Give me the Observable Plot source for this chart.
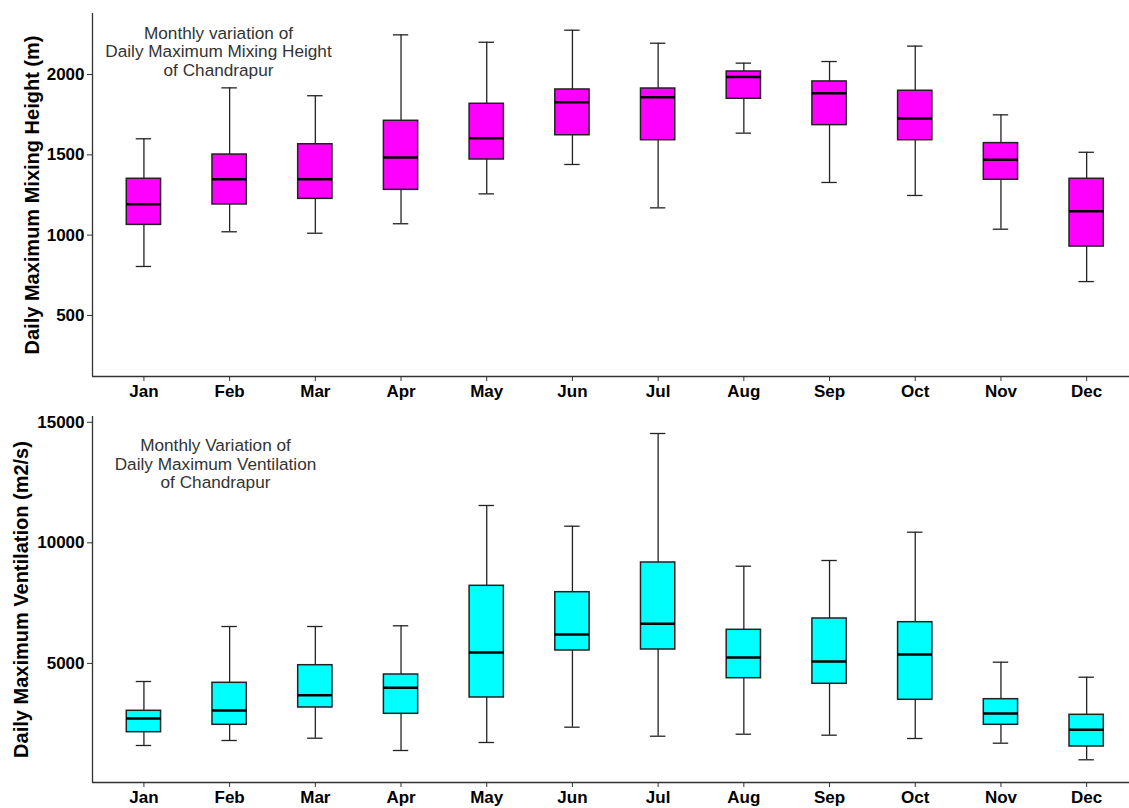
<!DOCTYPE html>
<html><head><meta charset="utf-8">
<script src="https://cdn.jsdelivr.net/npm/d3@7"></script>
<script src="https://cdn.jsdelivr.net/npm/@observablehq/plot@0.6"></script>
<style>
html,body{margin:0;padding:0;background:#fff;overflow:hidden;}
#chart svg{display:block;}
</style></head><body><div id="chart"></div>
<script>
const months = ["Jan","Feb","Mar","Apr","May","Jun","Jul","Aug","Sep","Oct","Nov","Dec"];

// Daily Maximum Mixing Height (m): whisker low, Q1, median, Q3, whisker high
const mixLow  = [805, 1021, 1012, 1071, 1257, 1440, 1170, 1635, 1328, 1247, 1037, 711];
const mixQ1   = [1064, 1191, 1226, 1282, 1471, 1622, 1591, 1849, 1685, 1591, 1345, 929];
const mixMed  = [1193, 1348, 1348, 1483, 1604, 1828, 1859, 1984, 1884, 1726, 1469, 1149];
const mixQ3   = [1351, 1502, 1566, 1712, 1818, 1907, 1913, 2019, 1957, 1899, 1573, 1351];
const mixHigh = [1600, 1917, 1868, 2247, 2201, 2276, 2195, 2071, 2081, 2177, 1749, 1516];

// Daily Maximum Ventilation (m2/s)
const ventLow  = [1595, 1802, 1897, 1387, 1719, 2354, 1980, 2063, 2022, 1885, 1690, 1002];
const ventQ1   = [2146, 2453, 3171, 2909, 3586, 5535, 5576, 4386, 4154, 3490, 2453, 1553];
const ventMed  = [2715, 3046, 3681, 3988, 5452, 6198, 6642, 5245, 5079, 5369, 2922, 2246];
const ventQ3   = [3034, 4195, 4925, 4539, 8218, 7953, 9185, 6393, 6862, 6709, 3515, 2868];
const ventHigh = [4249, 6530, 6530, 6559, 11549, 10690, 14535, 9031, 9268, 10441, 5050, 4427];

const mixTicks = [500, 1000, 1500, 2000];
const ventTicks = [5000, 10000, 15000];

const mixNote = ["Monthly variation of", "Daily Maximum Mixing Height", "of Chandrapur"];
const ventNote = ["Monthly Variation of", "Daily Maximum Ventilation", "of Chandrapur"];
const mixLabel = "Daily Maximum Mixing Height (m)";
const ventLabel = "Daily Maximum Ventilation (m2/s)";

const boxHalf = 0.2, capHalf = 0.09;

function panel(o) {
  const rows = months.map((m, i) => ({i: i + 1, m, low: o.low[i], q1: o.q1[i], med: o.med[i], q3: o.q3[i], high: o.high[i]}));
  const note = [{x: o.noteAt[0], y: o.noteAt[1], text: o.note.join("\n")}];
  return Plot.plot({
    width: 1129, height: o.height,
    marginLeft: 92, marginRight: 0, marginTop: o.marginTop, marginBottom: o.marginBottom,
    style: {fontFamily: "'Liberation Sans', Arial, sans-serif", fontSize: "17px", fontWeight: "bold", color: "#000", background: "#fff"},
    x: {type: "linear", domain: [0.4, 12.5]},
    y: {domain: o.yDomain},
    marks: [
      Plot.axisX(months.map((m, i) => i + 1), {tickFormat: i => months[i - 1], tickSize: 5, tickPadding: 3, stroke: "#333", label: null}),
      Plot.axisY(o.ticks, {tickSize: 5, tickPadding: 3, tickFormat: d => String(d), stroke: "#333", label: null}),
      Plot.ruleX([0.4], {stroke: "#333", strokeWidth: 1.3}),
      Plot.ruleY([o.yDomain[0]], {stroke: "#333", strokeWidth: 1.3}),
      Plot.ruleX(rows, {x: "i", y1: "low", y2: "q1", stroke: "#222", strokeWidth: 1.3}),
      Plot.ruleX(rows, {x: "i", y1: "q3", y2: "high", stroke: "#222", strokeWidth: 1.3}),
      Plot.ruleY(rows, {y: "high", x1: d => d.i - capHalf, x2: d => d.i + capHalf, stroke: "#222", strokeWidth: 1.3}),
      Plot.ruleY(rows, {y: "low", x1: d => d.i - capHalf, x2: d => d.i + capHalf, stroke: "#222", strokeWidth: 1.3}),
      Plot.rect(rows, {x1: d => d.i - boxHalf, x2: d => d.i + boxHalf, y1: "q1", y2: "q3", fill: o.fill, stroke: "#222", strokeWidth: 1.5}),
      Plot.ruleY(rows, {y: "med", x1: d => d.i - boxHalf, x2: d => d.i + boxHalf, stroke: "#000", strokeWidth: 2.5}),
      Plot.text(note, {x: "x", y: "y", text: "text", fontSize: 17.2, fontWeight: "normal", fill: "#333", lineHeight: 1.07}),
      Plot.text([o.yLabel], {frameAnchor: "left", textAnchor: "middle", rotate: -90, dx: o.labelDx, fontSize: 20, fontWeight: "bold", fill: "#000"})
    ]
  });
}

const chart = document.getElementById("chart");
chart.append(panel({
  low: mixLow, q1: mixQ1, med: mixMed, q3: mixQ3, high: mixHigh,
  fill: "#ff00ff", yDomain: [120, 2380], ticks: mixTicks,
  note: mixNote, noteAt: [1.87, 2143], yLabel: mixLabel, labelDx: -60,
  height: 405, marginTop: 13, marginBottom: 29
}));
chart.append(panel({
  low: ventLow, q1: ventQ1, med: ventMed, q3: ventQ3, high: ventHigh,
  fill: "#00ffff", yDomain: [60, 15240], ticks: ventTicks,
  note: ventNote, noteAt: [1.835, 13278], yLabel: ventLabel, labelDx: -71,
  height: 403, marginTop: 11, marginBottom: 26
}));
</script></body></html>
